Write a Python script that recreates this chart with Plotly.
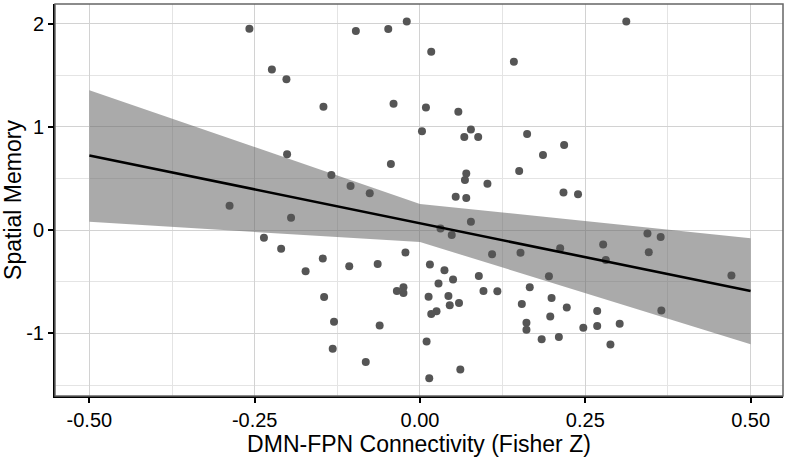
import plotly.graph_objects as go

# ---- data ----
conn_x = [-0.258, -0.097, -0.048, -0.020, -0.224, -0.202, -0.146, -0.040, -0.201, -0.044,
          -0.134, -0.105, -0.076, -0.288, 0.017, 0.142, 0.009, 0.058, 0.003, 0.077,
          0.067, 0.088, 0.162, 0.218, 0.186, 0.150, 0.070, 0.068, 0.102, 0.217,
          0.239, 0.054, 0.070, 0.312, -0.195, -0.236, -0.210, -0.147, -0.173, -0.107,
          -0.064, -0.022, -0.145, -0.035, -0.025, -0.025, -0.130, -0.061, -0.132, -0.082,
          0.077, 0.031, 0.048, 0.109, 0.152, 0.212, 0.015, 0.037, 0.050, 0.028,
          0.089, 0.013, 0.043, 0.096, 0.117, 0.195, 0.166, 0.199, 0.059, 0.045,
          0.154, 0.025, 0.017, 0.222, 0.197, 0.161, 0.161, 0.247, 0.184, 0.210,
          0.010, 0.061, 0.014, 0.344, 0.364, 0.277, 0.346, 0.281, 0.471, 0.268,
          0.365, 0.268, 0.302, 0.288]
memory_y = [1.950, 1.928, 1.947, 2.020, 1.554, 1.461, 1.195, 1.224, 0.735, 0.639,
            0.534, 0.428, 0.358, 0.236, 1.726, 1.630, 1.186, 1.147, 0.958, 0.975,
            0.902, 0.902, 0.931, 0.825, 0.726, 0.572, 0.547, 0.486, 0.448, 0.365,
            0.346, 0.323, 0.311, 2.020, 0.119, -0.073, -0.181, -0.274, -0.399, -0.351,
            -0.329, -0.217, -0.648, -0.590, -0.552, -0.610, -0.888, -0.923, -1.149, -1.278,
            0.081, 0.016, -0.047, -0.233, -0.219, -0.175, -0.332, -0.389, -0.478, -0.517,
            -0.444, -0.645, -0.638, -0.590, -0.593, -0.447, -0.552, -0.658, -0.705, -0.727,
            -0.715, -0.785, -0.811, -0.750, -0.837, -0.897, -0.964, -0.945, -1.057, -1.034,
            -1.079, -1.350, -1.434, -0.032, -0.066, -0.140, -0.214, -0.290, -0.440, -0.782,
            -0.779, -0.929, -0.907, -1.108]

fit_x = [-0.5, 0.0, 0.5]
fit_y = [0.722, 0.066, -0.590]
ci_upper = [1.355, 0.253, -0.079]
ci_lower = [0.080, -0.115, -1.105]

x_tickvals = [-0.5, -0.25, 0.0, 0.25, 0.5]
x_ticktext = ["-0.50", "-0.25", "0.00", "0.25", "0.50"]
y_tickvals = [-1, 0, 1, 2]
y_ticktext = ["-1", "0", "1", "2"]

fig = go.Figure()

# confidence band
fig.add_trace(go.Scatter(
    x=fit_x + fit_x[::-1], y=ci_upper + ci_lower[::-1],
    fill="toself", fillcolor="rgba(100,100,100,0.55)",
    line=dict(width=0), mode="lines", hoverinfo="skip", showlegend=False))

# points
fig.add_trace(go.Scatter(
    x=conn_x, y=memory_y, mode="markers",
    marker=dict(color="rgb(85,85,85)", size=8, line=dict(width=0)),
    showlegend=False))

# regression line
fig.add_trace(go.Scatter(
    x=fit_x, y=fit_y, mode="lines",
    line=dict(color="black", width=2.6), showlegend=False))

font_fam = "Liberation Sans, Arial, sans-serif"

fig.update_layout(
    width=787, height=457,
    margin=dict(l=55, r=4, t=4, b=57),
    plot_bgcolor="white", paper_bgcolor="white",
    font=dict(family=font_fam, color="black"),
    xaxis=dict(
        range=[-0.552, 0.549],
        tickvals=x_tickvals, ticktext=x_ticktext,
        tickfont=dict(size=20, color="black"),
        ticks="outside", ticklen=5, tickwidth=1.5, tickcolor="black",
        showgrid=True, gridcolor="#d2d2d2", gridwidth=1.3,
        minor=dict(tick0=0.125, dtick=0.25, showgrid=True, gridcolor="#e4e4e4", gridwidth=1, ticks=""),
        showline=True, linecolor="black", linewidth=2, mirror=False,
        zeroline=False,
        title=dict(text="DMN-FPN Connectivity (Fisher Z)", font=dict(size=23, color="black"), standoff=6),
    ),
    yaxis=dict(
        range=[-1.606, 2.189],
        tickvals=y_tickvals, ticktext=y_ticktext,
        tickfont=dict(size=20, color="black"),
        ticks="outside", ticklen=5, tickwidth=1.5, tickcolor="black",
        showgrid=True, gridcolor="#d2d2d2", gridwidth=1.3,
        minor=dict(tick0=0.5, dtick=1, showgrid=True, gridcolor="#e4e4e4", gridwidth=1, ticks=""),
        showline=True, linecolor="black", linewidth=2, mirror=False,
        zeroline=False,
        title=dict(text="Spatial Memory", font=dict(size=23, color="black"), standoff=6),
    ),
    shapes=[dict(type="rect", xref="paper", yref="paper", x0=0, y0=0, x1=1, y1=1,
                 line=dict(color="#666666", width=1.5), layer="above")],
)

fig.write_html("out.html")
